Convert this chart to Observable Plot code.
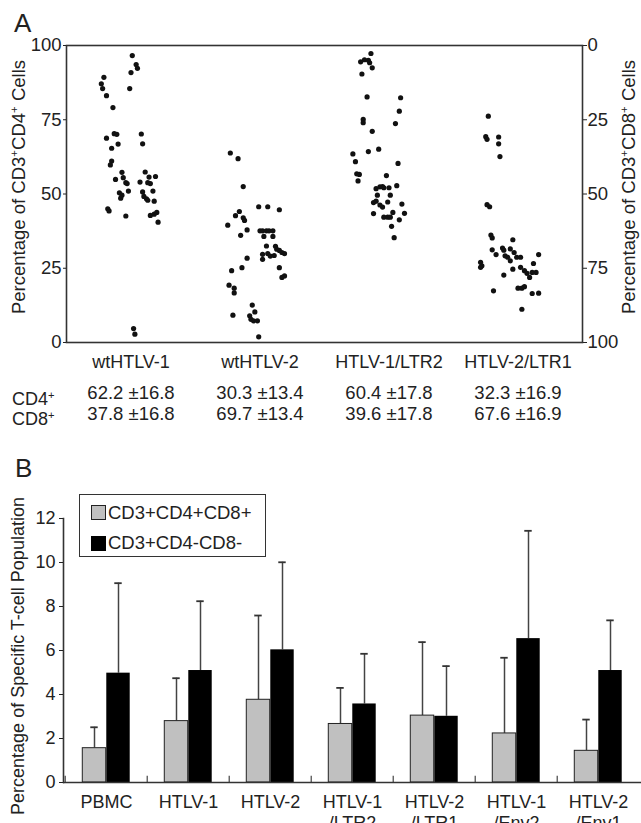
<!DOCTYPE html>
<html><head><meta charset="utf-8">
<script src="https://cdn.jsdelivr.net/npm/d3@7"></script>
<script src="https://cdn.jsdelivr.net/npm/@observablehq/plot@0.6"></script>
<style>
body{margin:0;background:#fff;}
#fig{position:relative;width:641px;height:823px;overflow:hidden;font-family:"Liberation Sans",Arial,sans-serif;color:#222;}
#fig svg{position:absolute;left:0;}
.abs{position:absolute;white-space:nowrap;line-height:1;}
.rot{transform:translate(-50%,-50%) rotate(-90deg);}
sup{font-size:0.62em;line-height:0;vertical-align:0.55em;}
.sw{position:absolute;width:15px;height:15px;box-sizing:border-box;}
</style></head><body><div id="fig"></div>
<script>
// ---------- Panel A data ----------
const catsA = ["wtHTLV-1", "wtHTLV-2", "HTLV-1/LTR2", "HTLV-2/LTR1"];
// [horizontal jitter within category, % CD3+CD4+]
const dotsWtHTLV1 = [[-0.21,89.3],[-0.23,87.1],[-0.22,85.5],[-0.19,83.1],[-0.14,79.1],[-0.19,68.8],[-0.13,70.3],[-0.11,70.1],[-0.10,66.8],[-0.15,65.4],[-0.15,61.1],[-0.16,59.8],[-0.12,54.9],[-0.07,57.3],[-0.06,55.5],[-0.04,53.8],[-0.03,53.5],[-0.09,50.4],[-0.08,48.6],[-0.07,49.6],[-0.02,51.0],[-0.18,45.0],[-0.17,44.3],[-0.04,42.6],[0.02,4.7],[0.03,2.8],[0.01,96.6],[0.04,93.6],[0.05,92.3],[0.00,90.9],[-0.01,85.5],[0.08,70.2],[0.09,66.9],[0.11,57.4],[0.14,55.7],[0.19,55.9],[0.07,54.0],[0.13,53.8],[0.15,53.5],[0.09,50.7],[0.17,51.0],[0.10,49.2],[0.12,48.4],[0.13,47.9],[0.18,47.6],[0.15,42.8],[0.18,43.2],[0.20,43.8],[0.21,40.5]];
const dotsWtHTLV2 = [[-0.23,63.8],[-0.17,61.9],[-0.13,52.5],[-0.25,39.5],[-0.19,42.7],[-0.16,44.1],[-0.13,42.0],[-0.12,41.1],[-0.10,37.9],[-0.15,36.1],[-0.10,28.4],[-0.14,25.2],[-0.22,24.2],[-0.24,19.3],[-0.20,18.3],[-0.20,16.7],[-0.21,9.2],[-0.06,12.6],[-0.08,9.0],[-0.07,7.8],[-0.05,7.3],[-0.02,7.3],[-0.04,10.3],[-0.01,1.9],[-0.01,45.7],[0.06,45.7],[0.15,44.7],[0.00,37.6],[0.02,37.6],[0.05,37.6],[0.07,37.6],[0.10,37.6],[0.03,35.7],[0.10,35.7],[0.05,32.5],[0.12,32.4],[0.13,31.4],[0.15,31.0],[0.17,30.3],[0.19,29.9],[0.02,29.7],[0.06,29.9],[0.08,29.1],[0.11,29.3],[0.02,28.0],[0.15,25.2],[0.19,22.4],[0.17,21.9]];
const dotsLTR2 = [[-0.14,97.3],[-0.22,94.5],[-0.19,95.2],[-0.16,95.0],[-0.15,94.2],[-0.13,92.5],[-0.21,90.4],[-0.17,82.7],[0.09,82.4],[0.08,77.9],[-0.20,75.1],[-0.20,74.0],[0.05,73.7],[-0.13,71.1],[-0.16,64.3],[-0.08,65.1],[-0.28,63.5],[-0.26,60.9],[0.07,60.3],[-0.25,56.8],[-0.23,56.6],[-0.24,54.4],[-0.02,56.2],[-0.10,51.8],[-0.07,52.4],[-0.05,52.5],[-0.04,52.1],[0.00,52.1],[0.06,52.8],[-0.09,49.6],[0.01,49.6],[-0.12,47.1],[-0.10,47.6],[-0.07,46.3],[-0.05,45.6],[-0.01,47.3],[0.10,46.6],[-0.12,43.4],[0.03,43.8],[0.12,43.5],[-0.04,42.2],[-0.01,42.2],[0.01,42.2],[0.08,41.3],[0.02,39.1],[0.04,35.3]];
const dotsLTR1 = [[-0.23,76.2],[-0.25,69.3],[-0.24,68.4],[-0.15,69.2],[-0.15,66.9],[-0.14,62.6],[-0.24,46.4],[-0.22,45.7],[-0.21,36.2],[-0.20,35.2],[-0.04,34.6],[-0.20,31.2],[-0.17,29.6],[-0.12,31.8],[-0.11,31.1],[-0.06,31.5],[-0.10,29.2],[-0.08,28.7],[-0.03,30.3],[-0.01,28.7],[-0.06,27.5],[0.02,28.7],[0.16,29.6],[-0.29,27.0],[-0.28,25.8],[-0.29,25.3],[-0.04,24.7],[-0.11,22.7],[0.02,25.3],[0.05,24.2],[0.07,23.3],[0.09,21.9],[0.12,26.6],[0.14,23.6],[0.11,23.6],[0.00,18.3],[0.03,18.3],[0.05,18.8],[0.11,16.5],[0.16,16.6],[-0.19,17.4],[0.03,11.2]];
const ticksA = [0, 25, 50, 75, 100];
const cd4Text = ["62.2 ±16.8", "30.3 ±13.4", "60.4 ±17.8", "32.3 ±16.9"];
const cd8Text = ["37.8 ±16.8", "69.7 ±13.4", "39.6 ±17.8", "67.6 ±16.9"];

// ---------- Panel B data ----------
const groupsB = ["PBMC", "HTLV-1", "HTLV-2", "HTLV-1\n/LTR2", "HTLV-2\n/LTR1", "HTLV-1\n/Env2", "HTLV-2\n/Env1"];
const dpMean = [1.56, 2.79, 3.76, 2.66, 3.04, 2.23, 1.44];   // CD3+CD4+CD8+
const dpSD   = [0.95, 1.95, 3.83, 1.64, 3.34, 3.44, 1.42];
const dnMean = [4.97, 5.09, 6.03, 3.57, 3.01, 6.54, 5.09];   // CD3+CD4-CD8-
const dnSD   = [4.09, 3.15, 3.98, 2.28, 2.28, 4.90, 2.28];
const ticksB = [0, 2, 4, 6, 8, 10, 12];
const seriesB = ["CD3+CD4+CD8+", "CD3+CD4-CD8-"];

const FONT = "Liberation Sans, Arial, sans-serif";
const INK = "#222";
const fig = document.getElementById("fig");

// ---------- Panel A ----------
const pointsA = [dotsWtHTLV1, dotsWtHTLV2, dotsLTR2, dotsLTR1]
  .flatMap((arr, gi) => arr.map(([j, v]) => ({x: gi + j, y: v})));

const plotA = Plot.plot({
  width: 641, height: 430,
  marginTop: 45, marginBottom: 88, marginLeft: 66, marginRight: 59,
  style: {fontFamily: FONT, fontSize: "18px", color: INK, background: "transparent", overflow: "visible"},
  x: {domain: [-0.5, 3.5]},
  y: {domain: [0, 100]},
  marks: [
    Plot.frame({stroke: "#333", strokeWidth: 1.6}),
    Plot.axisY({ticks: ticksA, tickSize: 3, tickPadding: 2, label: null, fontSize: 18.5, stroke: INK}),
    Plot.axisY({anchor: "right", ticks: ticksA, tickFormat: d => String(100 - d), tickSize: 4, tickPadding: 1, label: null, fontSize: 18.5, stroke: INK}),
    Plot.axisX({ticks: [0, 1, 2, 3], tickFormat: i => catsA[i], tickSize: 0, tickPadding: 13, label: null, fontSize: 18}),
    Plot.dot(pointsA, {x: "x", y: "y", r: 2.6, fill: "#111", stroke: "none"}),
    Plot.text(cd4Text, {x: (d, i) => i, text: d => d, frameAnchor: "bottom", dy: 56.5, fontSize: 18.5, fill: INK}),
    Plot.text(cd8Text, {x: (d, i) => i, text: d => d, frameAnchor: "bottom", dy: 77, fontSize: 18.5, fill: INK})
  ]
});
plotA.style.top = "0px";
fig.appendChild(plotA);

// ---------- Panel B ----------
const rowsDP = groupsB.map((g, i) => ({g, m: dpMean[i], sd: dpSD[i]}));
const rowsDN = groupsB.map((g, i) => ({g, m: dnMean[i], sd: dnSD[i]}));
const mL = 63, W = (641 - mL) / groupsB.length, bw = 24, cap = 4;

const plotB = Plot.plot({
  width: 641, height: 393,
  marginTop: 88, marginBottom: 41, marginLeft: mL, marginRight: 0,
  style: {fontFamily: FONT, fontSize: "18px", color: INK, background: "transparent", overflow: "visible"},
  x: {domain: groupsB, padding: 0},
  y: {domain: [0, 12]},
  marks: [
    Plot.ruleX(rowsDP, {x: "g", y1: "m", y2: d => d.m + d.sd, dx: -bw / 2, stroke: "#444", strokeWidth: 1.5}),
    Plot.ruleX(rowsDN, {x: "g", y1: "m", y2: d => d.m + d.sd, dx: bw / 2, stroke: "#444", strokeWidth: 1.5}),
    Plot.tickY(rowsDP, {x: "g", y: d => d.m + d.sd, insetLeft: W / 2 - bw / 2 - cap, insetRight: W / 2 + bw / 2 - cap, stroke: "#333", strokeWidth: 1.8}),
    Plot.tickY(rowsDN, {x: "g", y: d => d.m + d.sd, insetLeft: W / 2 + bw / 2 - cap, insetRight: W / 2 - bw / 2 - cap, stroke: "#333", strokeWidth: 1.8}),
    Plot.barY(rowsDP, {x: "g", y: "m", fill: "#c0c0c0", stroke: "#222", strokeWidth: 1, insetLeft: W / 2 - bw, insetRight: W / 2}),
    Plot.barY(rowsDN, {x: "g", y: "m", fill: "#000", insetLeft: W / 2, insetRight: W / 2 - bw}),
    Plot.ruleX(groupsB, {x: d => d, y1: 0, y2: 0.28, dx: -W / 2, stroke: "#444", strokeWidth: 1.2}),
    Plot.frame({anchor: "left", stroke: "#333", strokeWidth: 1.6}),
    Plot.ruleY([0], {stroke: "#333", strokeWidth: 1.6}),
    Plot.axisY({ticks: ticksB, tickSize: 4, tickPadding: 4, label: null, fontSize: 18, stroke: INK}),
    Plot.axisX({tickSize: 0, tickPadding: 10, label: null, fontSize: 18, lineHeight: 1.2})
  ]
});
plotB.style.top = "430px";
fig.appendChild(plotB);

// ---------- HTML text: panel letters, titles, row labels, legend ----------
function addDiv(html, css, cls = "abs") {
  const d = document.createElement("div");
  d.className = cls;
  d.innerHTML = html;
  Object.assign(d.style, css);
  fig.appendChild(d);
  return d;
}
addDiv("A", {left: "14px", top: "10px", fontSize: "26px"});
addDiv("B", {left: "15px", top: "455px", fontSize: "26px"});
addDiv("Percentage of CD3<sup>+</sup>CD4<sup>+</sup> Cells", {left: "18.5px", top: "187px", fontSize: "18.5px"}, "abs rot");
addDiv("Percentage of CD3<sup>+</sup>CD8<sup>+</sup> Cells", {left: "629px", top: "187px", fontSize: "18.5px"}, "abs rot");
addDiv("Percentage of Specific T-cell Population", {left: "18px", top: "656px", fontSize: "18px"}, "abs rot");
addDiv("CD4<sup>+</sup>", {left: "12px", top: "389.5px", fontSize: "18px"});
addDiv("CD8<sup>+</sup>", {left: "12px", top: "410px", fontSize: "18px"});

// legend
addDiv("", {left: "79px", top: "494px", width: "187px", height: "63px", border: "1.3px solid #333", boxSizing: "border-box"});
addDiv("", {left: "91px", top: "505px", background: "#c0c0c0", border: "1px solid #222"}, "sw");
addDiv("", {left: "91px", top: "535.5px", background: "#000"}, "sw");
addDiv(seriesB[0], {left: "108px", top: "503.5px", fontSize: "18.5px"});
addDiv(seriesB[1], {left: "108px", top: "534px", fontSize: "18.5px"});
</script>
</body></html>
